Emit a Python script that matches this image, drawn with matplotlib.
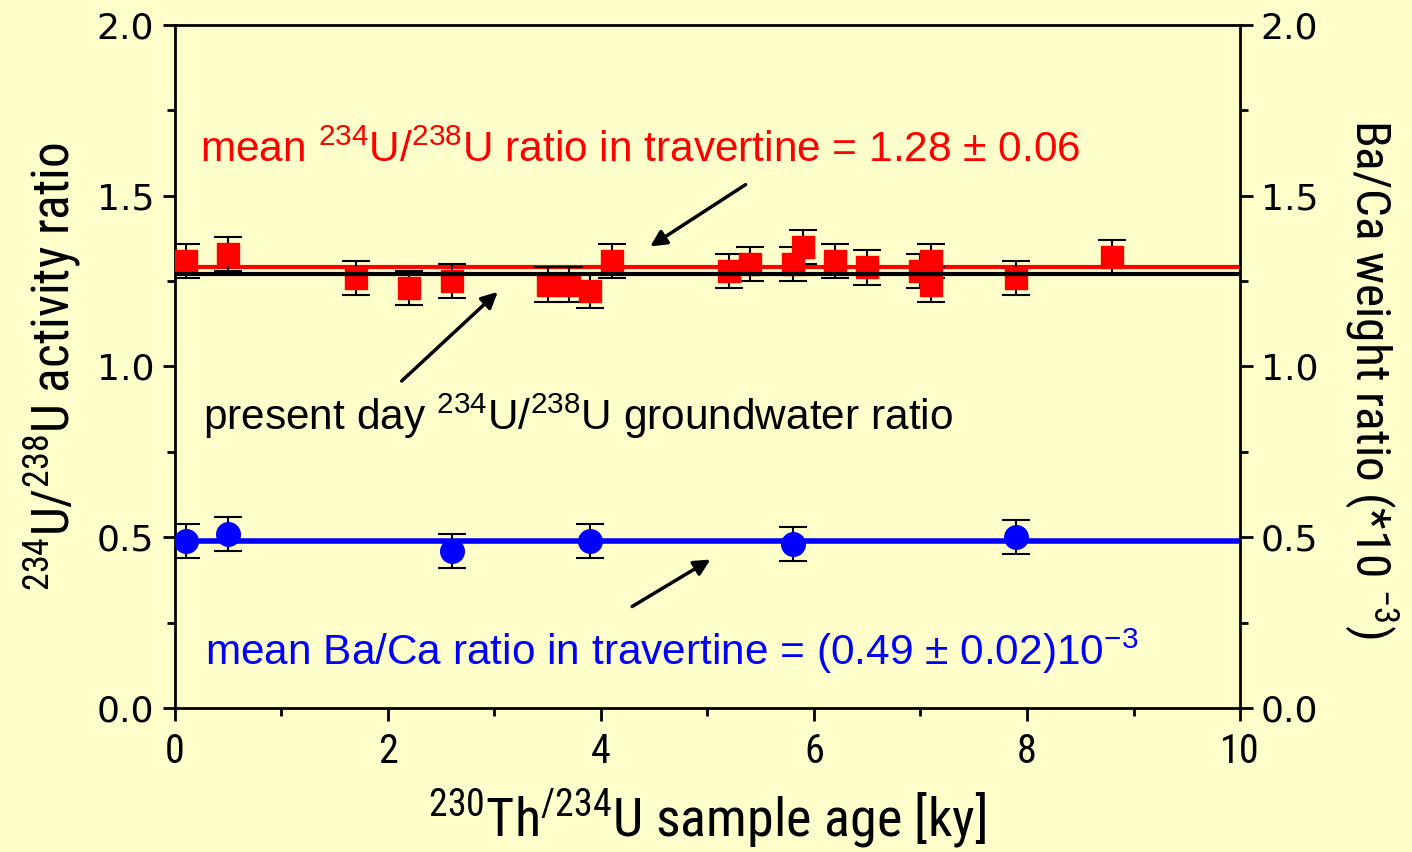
import os
import matplotlib
matplotlib.use("Agg")
import matplotlib.pyplot as plt
from matplotlib import font_manager
from matplotlib.font_manager import FontProperties
from matplotlib.ticker import MultipleLocator, FormatStrFormatter

# ---- data ----
u_age = [0.1, 0.5, 1.7, 2.2, 2.6, 3.5, 3.7, 3.9, 4.1, 5.2, 5.4, 5.8, 5.9,
         6.2, 6.5, 7.0, 7.1, 7.1, 7.9, 8.8]
u_ratio = [1.31, 1.33, 1.26, 1.23, 1.25, 1.24, 1.24, 1.22, 1.31, 1.28, 1.30,
           1.30, 1.35, 1.31, 1.29, 1.28, 1.31, 1.24, 1.26, 1.32]
u_err = [0.05] * len(u_age)

ba_age = [0.1, 0.5, 2.6, 3.9, 5.8, 7.9]
ba_ratio = [0.49, 0.51, 0.46, 0.49, 0.48, 0.50]
ba_err = [0.05] * len(ba_age)

u_mean = 1.29
gw_ratio = 1.27
ba_mean = 0.49

# condensed face for the axis labels, picked by file name
files = {os.path.basename(f.fname): f.fname for f in font_manager.fontManager.ttflist}
narrow_file = None
for cand in ["LiberationSansNarrow-Regular.ttf", "RobotoCondensed-Regular.ttf",
             "DejaVuSansCondensed.ttf", "OpenSans_Condensed-Regular.ttf"]:
    if cand in files:
        narrow_file = files[cand]
        break


def narrow_fp(size):
    if narrow_file:
        return FontProperties(fname=narrow_file, size=size)
    return FontProperties(family="Liberation Sans", size=size)


plt.rcParams["font.family"] = "Liberation Sans"
plt.rcParams["mathtext.fontset"] = "custom"
plt.rcParams["mathtext.rm"] = "Liberation Sans"

bg = "#FFFFCC"
fig = plt.figure(figsize=(14.12, 8.52), dpi=100, facecolor=bg)
ax = fig.add_axes([0.1239, 0.169, 0.7543, 0.8017])
ax.set_facecolor(bg)

ax.axhline(u_mean, color="red", lw=3, zorder=2)
ax.errorbar(u_age, u_ratio, yerr=u_err, fmt="s", color="red", ms=16,
            ecolor="black", elinewidth=1.5, capsize=10, capthick=1.5, zorder=3)
ax.axhline(gw_ratio, color="black", lw=3, zorder=4)

ax.axhline(ba_mean, color="blue", lw=4, zorder=2)
ax.errorbar(ba_age, ba_ratio, yerr=ba_err, fmt="o", color="blue", ms=17,
            ecolor="black", elinewidth=1.5, capsize=10, capthick=1.5, zorder=3)

ax.set_xlim(0, 10)
ax.set_ylim(0, 2)
ax.xaxis.set_major_locator(MultipleLocator(2))
ax.xaxis.set_minor_locator(MultipleLocator(1))
ax.yaxis.set_major_locator(MultipleLocator(0.5))
ax.yaxis.set_minor_locator(MultipleLocator(0.25))
ax.yaxis.set_major_formatter(FormatStrFormatter("%.1f"))
for s in ax.spines.values():
    s.set_linewidth(2)
ax.tick_params(which="major", direction="out", length=9, width=2)
ax.tick_params(which="minor", direction="out", length=6, width=2)
ax.tick_params(axis="y", which="both", right=True, labelright=True)
ax.tick_params(axis="x", pad=8)
ax.tick_params(axis="y", labelsize=26, pad=6)
for t in ax.xaxis.get_major_ticks():
    t.label1.set_fontproperties(narrow_fp(29))
for t in ax.yaxis.get_major_ticks():
    t.label1.set_family("DejaVu Sans")
    t.label2.set_family("DejaVu Sans")

ax.set_xlabel(r"$\mathregular{^{230}}$Th$\mathregular{^{/234}}$U sample age [ky]",
              fontproperties=narrow_fp(39), labelpad=12)
ax.set_ylabel(r"$\mathregular{^{234}}$U/$\mathregular{^{238}}$U activity ratio",
              fontproperties=narrow_fp(37), labelpad=10)
fig.text(0.971, 0.555, r"Ba/Ca weight ratio (*10 $\mathregular{^{-3}}$)",
         rotation=-90, fontproperties=narrow_fp(35.5), ha="center", va="center")

ax.text(0.235, 1.6, r"mean $\mathregular{^{234}}$U/$\mathregular{^{238}}$U ratio in travertine = 1.28 ± 0.06",
        color="red", fontsize=30.5)
ax.text(0.26, 0.815, r"present day $\mathregular{^{234}}$U/$\mathregular{^{238}}$U groundwater ratio",
        color="black", fontsize=30.5)
ax.text(0.28, 0.126, r"mean Ba/Ca ratio in travertine = (0.49 ± 0.02)10$\mathregular{^{-3}}$",
        color="blue", fontsize=30.5)

arr = dict(arrowstyle="-|>", color="black", lw=2.5, mutation_scale=24)
ax.annotate("", xy=(4.44, 1.347), xytext=(5.38, 1.537), arrowprops=arr)
ax.annotate("", xy=(3.05, 1.224), xytext=(2.11, 0.952), arrowprops=arr)
ax.annotate("", xy=(5.05, 0.439), xytext=(4.27, 0.293), arrowprops=arr)

fig.savefig("out.png", dpi=100, facecolor=bg)
